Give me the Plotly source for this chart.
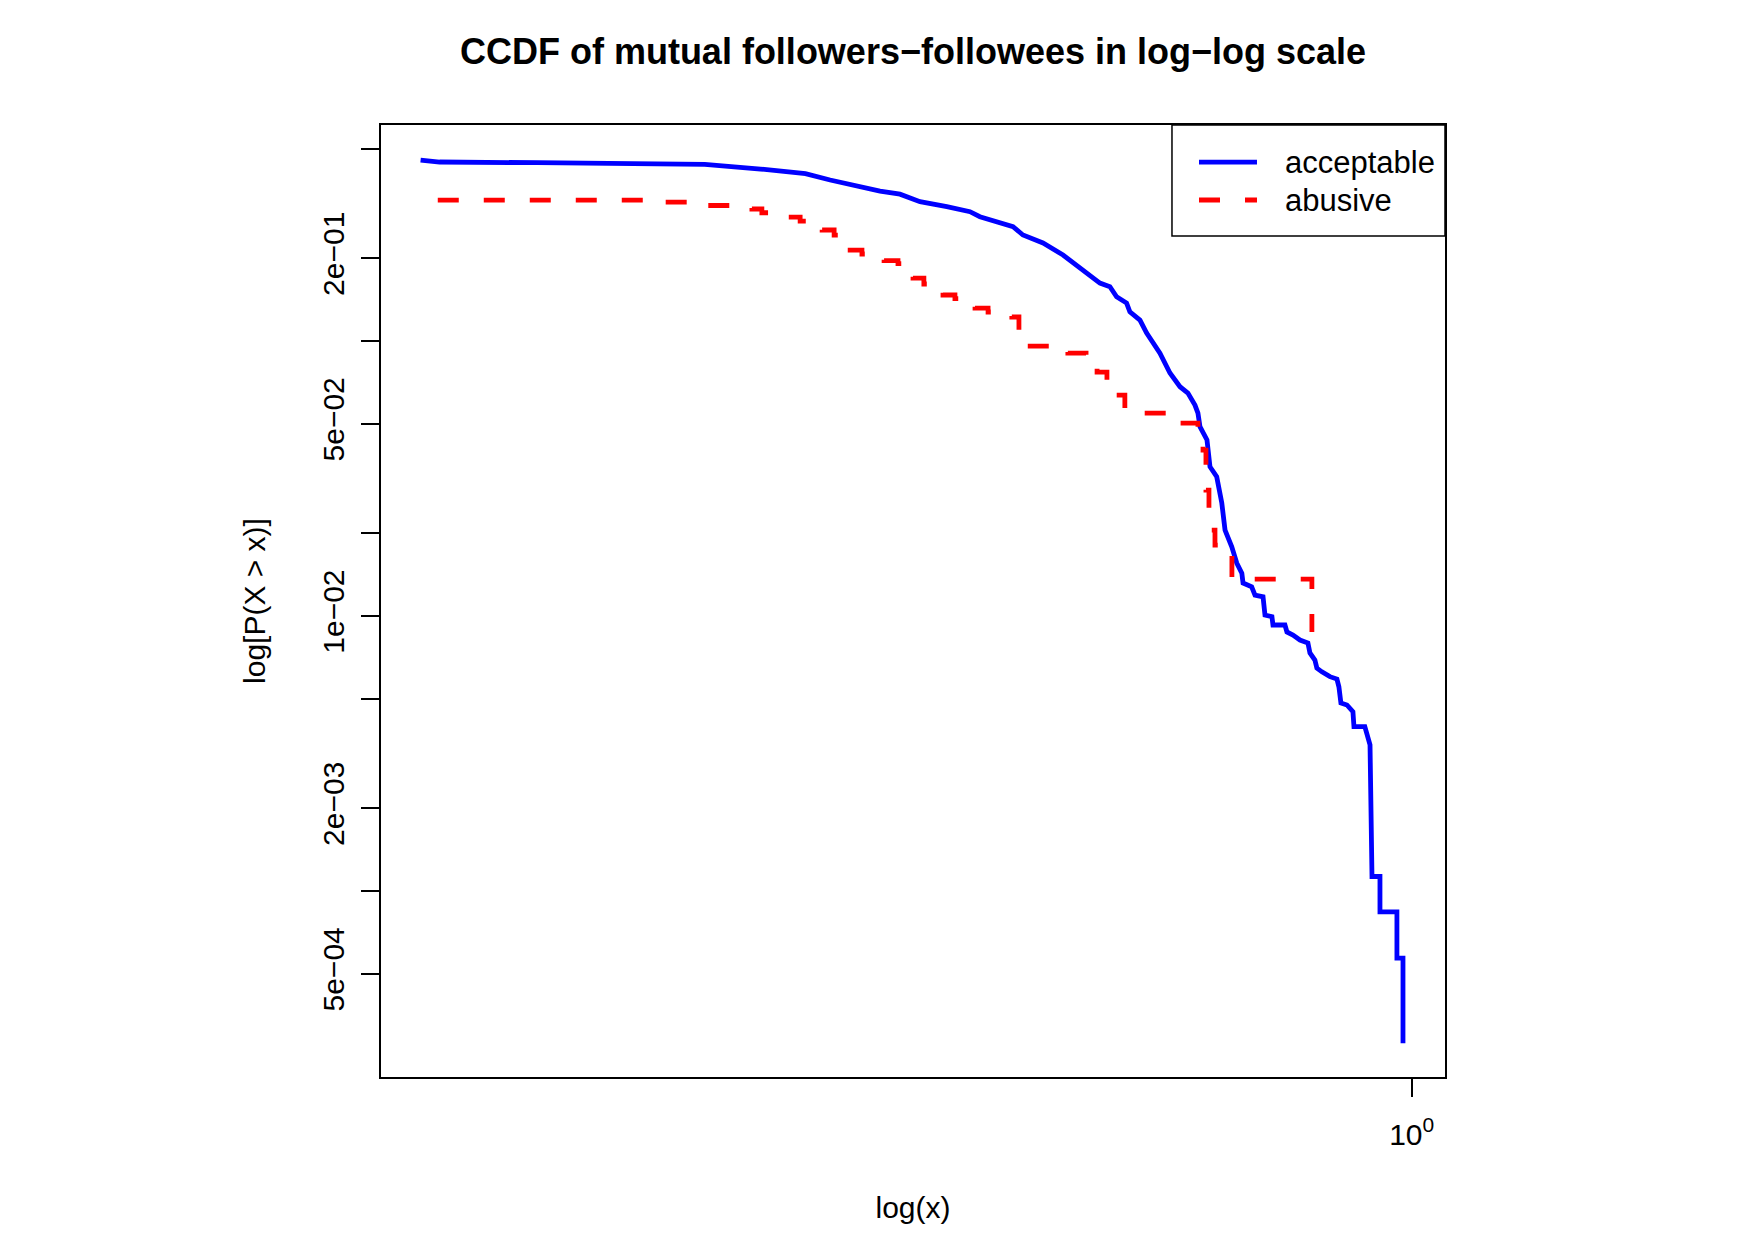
import plotly.graph_objects as go

# ---- data ----
acceptable_x = [0.1256, 0.1307, 0.1603, 0.2026, 0.2277, 0.2559, 0.2811, 0.2960, 0.3158, 0.3286,
                0.3426, 0.3573, 0.3779, 0.3967, 0.4050, 0.4341, 0.4432, 0.4622, 0.4820, 0.5026,
                0.5207, 0.5317, 0.5392, 0.5506, 0.5544, 0.5662, 0.5742, 0.5904, 0.6029, 0.6157,
                0.6260, 0.6353, 0.6393, 0.6420, 0.6515, 0.6556, 0.6649, 0.6720, 0.6766, 0.6862,
                0.6934, 0.7008, 0.7026, 0.7154, 0.7204, 0.7326, 0.7356, 0.7464, 0.7480, 0.7670,
                0.7702, 0.7800, 0.7915, 0.8048, 0.8082, 0.8166, 0.8200, 0.8287, 0.8427, 0.8552,
                0.8587, 0.8623, 0.8733, 0.8843, 0.8862, 0.9066, 0.9107, 0.9165, 0.9203, 0.9358,
                0.9358, 0.9696, 0.9696, 0.9820, 0.9820]
acceptable_p = [0.455, 0.4476, 0.4450, 0.4428, 0.4390, 0.4220, 0.4060, 0.3850, 0.3636, 0.3510,
                0.3420, 0.3210, 0.3079, 0.2953, 0.2831, 0.2603, 0.2429, 0.2272, 0.2055, 0.1812,
                0.1625, 0.1576, 0.1449, 0.1374, 0.1278, 0.1192, 0.1069, 0.0904, 0.0765, 0.0682,
                0.0647, 0.0585, 0.0547, 0.0488, 0.0437, 0.0349, 0.0321, 0.0258, 0.02055, 0.01786,
                0.01559, 0.01433, 0.01318, 0.01278, 0.01192, 0.01175, 0.01008, 0.00994, 0.00928, 0.00928,
                0.00875, 0.00853, 0.00818, 0.00798, 0.00734, 0.00692, 0.00647, 0.00627, 0.00602, 0.00590,
                0.00553, 0.00483, 0.00475, 0.00449, 0.00396, 0.00396, 0.00369, 0.00340, 0.00113, 0.00113,
                0.00084, 0.00084, 0.00057, 0.00057, 0.00028]

abusive_x = [0.1302, 0.2051, 0.2245, 0.2513, 0.2566, 0.2710, 0.2780, 0.2911, 0.2985, 0.3060,
             0.3164, 0.3314, 0.3412, 0.3521, 0.3602, 0.3749, 0.3844, 0.4009, 0.4120, 0.4330,
             0.4395, 0.4869, 0.5058, 0.5176, 0.5284, 0.5486, 0.6196, 0.6393, 0.6461, 0.6501,
             0.6542, 0.6625, 0.6864, 0.8115]
abusive_p = [0.3256, 0.3200, 0.3110, 0.3020, 0.2927, 0.2824, 0.2731, 0.2533, 0.2429, 0.2142,
             0.2072, 0.1962, 0.1913, 0.1694, 0.1612, 0.1470, 0.1427, 0.1318, 0.1275, 0.1223,
             0.0959, 0.0904, 0.0875, 0.0771, 0.0636, 0.0547, 0.0503, 0.0483, 0.0401, 0.0287,
             0.02055, 0.01812, 0.01363, 0.00875]

series_names = ["acceptable", "abusive"]
series_colors = ["#0000FF", "#FF0000"]

y_tick_values = [2e-1, 5e-2, 1e-2, 2e-3, 5e-4]
y_tick_labels = ["2e\u221201", "5e\u221202", "1e\u221202", "2e\u221203", "5e\u221204"]
y_minor_values = [5e-1, 1e-1, 2e-2, 5e-3, 1e-3]
x_tick_values = [1]
x_tick_labels = ["10<sup>0</sup>"]

FONT = "Liberation Sans, Arial, Helvetica, sans-serif"
DASH = "21px,25px"
LW = 4.8

fig = go.Figure()
fig.add_trace(go.Scatter(
    x=acceptable_x, y=acceptable_p, mode="lines", name=series_names[0], showlegend=False,
    line=dict(color=series_colors[0], width=LW, shape="linear")))
fig.add_trace(go.Scatter(
    x=abusive_x, y=abusive_p, mode="lines", name=series_names[1], showlegend=False,
    line=dict(color=series_colors[1], width=LW, shape="hv", dash=DASH)))

fig.update_layout(
    width=1754, height=1241, autosize=False,
    margin=dict(l=381, r=309, t=125, b=164),
    paper_bgcolor="white", plot_bgcolor="white",
    font=dict(family=FONT, color="black", size=30),
    title=dict(text="<b>CCDF of mutual followers\u2212followees in log\u2212log scale</b>",
               x=0.5, xref="paper", xanchor="center", y=1 - 51.5 / 1241, yanchor="middle",
               font=dict(size=36, family=FONT, color="black")),
    showlegend=False,
)

fig.update_xaxes(
    type="log", range=[-0.937, 0.0303],
    showline=True, linecolor="black", linewidth=2, mirror=True,
    showgrid=False, zeroline=False,
    ticks="outside", ticklen=18, tickwidth=2, tickcolor="black",
    tickvals=x_tick_values, ticktext=x_tick_labels, ticklabelstandoff=12,
    tickfont=dict(size=30, family=FONT, color="black"),
    title=dict(text="log(x)", standoff=47, font=dict(size=30, family=FONT, color="black")),
)
fig.update_yaxes(
    type="log", range=[-3.676, -0.2145],
    showline=True, linecolor="black", linewidth=2, mirror=True,
    showgrid=False, zeroline=False,
    ticks="outside", ticklen=18, tickwidth=2, tickcolor="black",
    tickvals=y_tick_values, ticktext=y_tick_labels, tickangle=-90, ticklabelstandoff=5,
    tickfont=dict(size=30, family=FONT, color="black"),
    minor=dict(tickmode="array", tickvals=y_minor_values, ticks="outside", ticklen=18,
               tickwidth=2, tickcolor="black", showgrid=False),
    title=dict(text="log[P(X > x)]", standoff=43, font=dict(size=30, family=FONT, color="black")),
)

# legend box (top-right, like R's legend("topright", ...))
fig.add_shape(type="rect", xref="paper", yref="paper", x0=0.7434, x1=1.0, y0=0.8834, y1=1.0,
              line=dict(color="black", width=1.5), fillcolor="white", layer="above")
legend_rows_y = [0.9611, 0.9212]
legend_dash = ["solid", DASH]
for name, color, ly, dash in zip(series_names, series_colors, legend_rows_y, legend_dash):
    fig.add_shape(type="line", xref="paper", yref="paper", x0=0.7688, x1=0.8233, y0=ly, y1=ly,
                  line=dict(color=color, width=LW, dash=dash), layer="above")
    fig.add_annotation(text=name, xref="paper", yref="paper", x=0.8477, y=ly,
                       xanchor="left", yanchor="middle", showarrow=False,
                       font=dict(size=31, family=FONT, color="black"))

fig.write_html("out.html")
